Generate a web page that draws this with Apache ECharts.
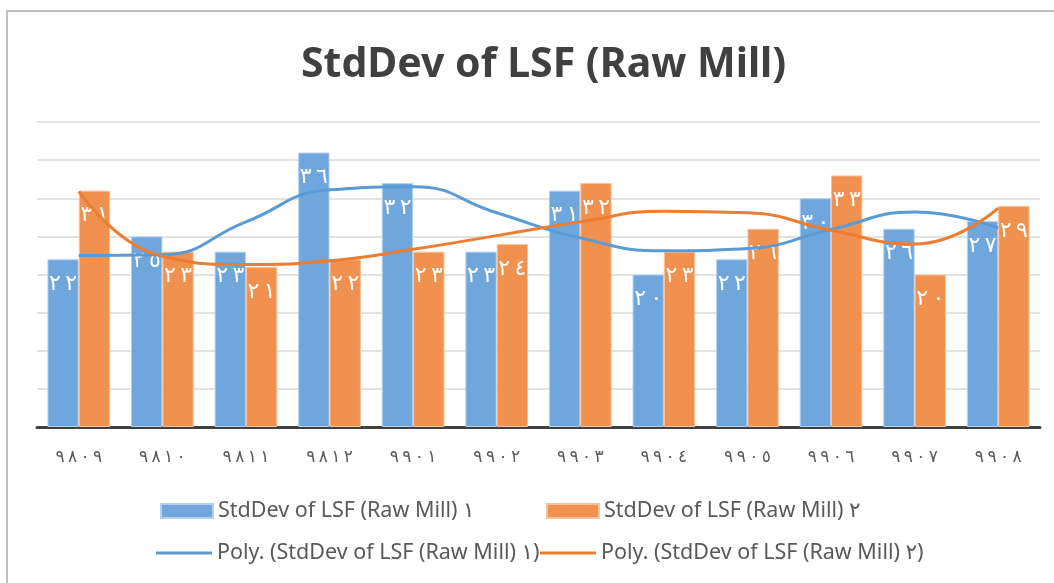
<!DOCTYPE html>
<html lang="en">
<head>
    <meta charset="UTF-8">
    <title>StdDev of LSF (Raw Mill)</title>
    <script src="https://cdn.jsdelivr.net/npm/echarts@6/dist/echarts.min.js"></script>
</head>
<style>
    html,body{
        padding: 0;
        margin: 0;
        background: #fff;
    }
</style>
<body>
<div id="chart" style="width: 1054px;height:583px;"></div>
</body>
<script type="text/javascript">
    var categories = ['٩٨٠٩','٩٨١٠','٩٨١١','٩٨١٢','٩٩٠١','٩٩٠٢','٩٩٠٣','٩٩٠٤','٩٩٠٥','٩٩٠٦','٩٩٠٧','٩٩٠٨'];
    var mill1 = [22, 25, 23, 36, 32, 23, 31, 20, 22, 30, 26, 27];
    var mill2 = [31, 23, 21, 22, 23, 24, 32, 23, 26, 33, 20, 29];
    // trendline values at each category
    var poly1 = [22.5, 22.6, 26.9, 31.1, 31.5, 28.1, 24.8, 23.1, 23.4, 25.9, 28.2, 26.1];
    var poly2 = [30.9, 22.4, 21.3, 21.8, 23.3, 25.1, 26.9, 28.3, 28.1, 25.8, 24.0, 28.7];
    var names = ['StdDev of LSF (Raw Mill) ١', 'StdDev of LSF (Raw Mill) ٢',
                 'Poly. (StdDev of LSF (Raw Mill) ١)', 'Poly. (StdDev of LSF (Raw Mill) ٢)'];

    var digits = '٠١٢٣٤٥٦٧٨٩';
    var LRM = '\u200E';
    // spread the digits out and keep them left-to-right
    function spaced(s, gap) {
        return s.split('').join(LRM + gap + LRM);
    }
    function toArabic(n) {
        return String(n).split('').map(function (d) { return digits[+d]; }).join('');
    }

    var blue = '#5B9BD5', orange = '#ED7D31';
    var legendText = {fontFamily: 'Noto Sans, DejaVu Sans', fontSize: 21.5, color: '#595959'};

    function legendAt(name, left, top, isLine) {
        return {data: [name], left: left, top: top, padding: 0,
                itemWidth: isLine ? 56 : 52, itemHeight: isLine ? 3 : 14,
                icon: 'rect', itemGap: 4, textStyle: legendText, selectedMode: false};
    }

    function barLabel() {
        return {
            show: true, position: 'insideTop', distance: 14, color: '#fff',
            fontFamily: 'DejaVu Sans', fontSize: 22,
            formatter: function (p) { return spaced(toArabic(p.value), '\u2009'); }
        };
    }

    var myChart = echarts.init(document.getElementById('chart'));
    myChart.setOption({
        animation: false,
        title: {
            text: 'StdDev of LSF (Raw Mill)',
            left: 296, top: 40,
            textStyle: {fontFamily: 'Noto Sans', fontWeight: 'bold', fontSize: 41, color: '#404040'}
        },
        graphic: [{
            type: 'rect', shape: {x: 7, y: 11, width: 1100, height: 620},
            style: {fill: 'none', stroke: '#c0c0c0', lineWidth: 2}, silent: true
        }],
        legend: [
            legendAt(names[0], 160, 500, false),
            legendAt(names[1], 546, 500, false),
            legendAt(names[2], 156, 542, true),
            legendAt(names[3], 540, 542, true)
        ],
        grid: {left: 37, right: 14, top: 122, bottom: 156},
        xAxis: {
            type: 'category', data: categories,
            axisLine: {lineStyle: {color: '#404040', width: 3}},
            axisTick: {show: false},
            axisLabel: {
                color: '#595959', fontFamily: 'DejaVu Sans', fontSize: 17, margin: 22,
                formatter: function (v) { return spaced(v, '\u2009'); }
            }
        },
        yAxis: {
            type: 'value', min: 0, max: 40, interval: 5,
            axisLabel: {show: false},
            axisLine: {show: false}, axisTick: {show: false},
            splitLine: {lineStyle: {color: '#d9d9d9', width: 1.5}}
        },
        series: [
            {
                name: names[0], type: 'bar', data: mill1, barGap: '0%', barCategoryGap: '25%',
                itemStyle: {color: '#6FA6DB', borderColor: '#B4D0EE', borderWidth: 1},
                label: barLabel()
            },
            {
                name: names[1], type: 'bar', data: mill2,
                itemStyle: {color: '#F0914F', borderColor: '#F7C29C', borderWidth: 1},
                label: barLabel()
            },
            {
                name: names[2], type: 'line', data: poly1, smooth: true, symbol: 'none',
                lineStyle: {color: blue, width: 3}, itemStyle: {color: blue}
            },
            {
                name: names[3], type: 'line', data: poly2, smooth: true, symbol: 'none',
                lineStyle: {color: orange, width: 3}, itemStyle: {color: orange}
            }
        ]
    });
</script>
</html>
